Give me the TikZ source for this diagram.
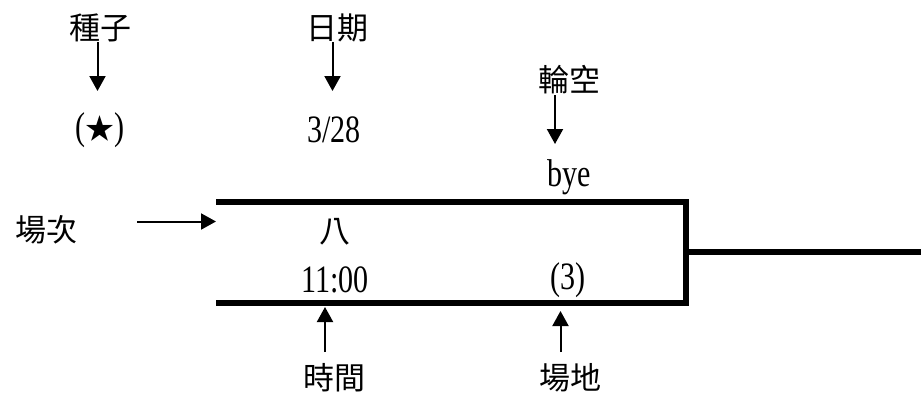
\documentclass[tikz,border=0pt]{standalone}
\usepackage{fontspec}
\usepackage{graphicx}
\setmainfont{Liberation Serif}
\newfontfamily\cjk{Noto Sans CJK TC}
\usetikzlibrary{arrows.meta}
\newcommand{\talltxt}[1]{\scalebox{0.97}[1.25]{#1}}
\tikzset{
  lbl/.style={inner sep=0pt, font=\cjk\fontsize{31}{31}\selectfont},
  val/.style={inner sep=0pt, font=\fontsize{31}{31}\selectfont},
  ptr/.style={line width=2pt, -{Triangle[length=15pt,width=16pt]}},
  brk/.style={line width=6pt},
}
\begin{document}
\begin{tikzpicture}[x=1pt,y=-1pt]
\useasboundingbox (0,0) rectangle (921,399);
% labels
\node[lbl] (seed) at (100,28) {種子};
\node[lbl] (date) at (337,28) {日期};
\node[lbl] (bye) at (569,80) {輪空};
\node[lbl] (match) at (47,230) {場次};
\node[lbl] (time) at (334,378) {時間};
\node[lbl] (court) at (570,378) {場地};
% values
\node[val] (star) at (100,130) {\talltxt{(}{\cjk\fontsize{29}{29}\selectfont ★}\talltxt{)}};
\node[val] (dval) at (334,130) {\talltxt{3/28}};
\node[val] (byev) at (569,177) {\talltxt{bye}};
\node[lbl] (mval) at (335,232) {八};
\node[val] (tval) at (335,280) {\talltxt{11:00}};
\node[val] (cval) at (568,280) {\talltxt{(3)}};
% arrow coordinates
\coordinate (s1) at (97.5,42);  \coordinate (s2) at (97.5,91);
\coordinate (d1) at (332.5,42); \coordinate (d2) at (332.5,91);
\coordinate (b1) at (555,95);   \coordinate (b2) at (555,144);
\coordinate (m1) at (137,221.5);\coordinate (m2) at (216,221.5);
\coordinate (t1) at (325,352);  \coordinate (t2) at (325,307);
\coordinate (c1) at (560.5,352);\coordinate (c2) at (560.5,311);
\draw[ptr] (s1) -- (s2);
\draw[ptr] (d1) -- (d2);
\draw[ptr] (b1) -- (b2);
\draw[ptr] (m1) -- (m2);
\draw[ptr] (t1) -- (t2);
\draw[ptr] (c1) -- (c2);
% bracket
\coordinate (tl) at (216,202);
\coordinate (tr) at (685.5,202);
\coordinate (bl) at (216,302.5);
\coordinate (br) at (685.5,302.5);
\coordinate (mid) at (685.5,252);
\coordinate (out) at (921,252);
\draw[brk] (tl) -- (tr) -- (br) -- (bl);
\draw[brk] (mid) -- (out);
\end{tikzpicture}
\end{document}
